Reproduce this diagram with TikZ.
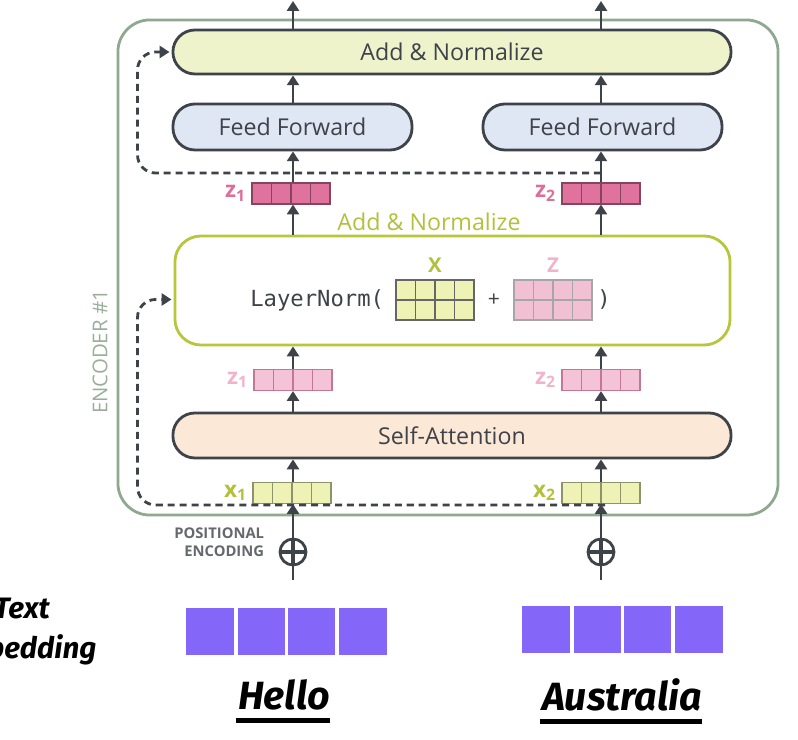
\documentclass[tikz,border=0pt]{standalone}
\usepackage{fontspec}
\setmainfont{Open Sans}
\setmonofont{DejaVu Sans Mono}
\newfontfamily\wordfont{Fira Sans}
\usetikzlibrary{arrows.meta, positioning, calc}

\definecolor{ink}{HTML}{3E4249}
\definecolor{encline}{HTML}{8FA88F}
\definecolor{enctext}{HTML}{9AAE9A}
\definecolor{addfill}{HTML}{EEF3CC}
\definecolor{fffill}{HTML}{DFE7F5}
\definecolor{safill}{HTML}{FCE8D7}
\definecolor{olive}{HTML}{B3C13A}
\definecolor{lnline}{HTML}{B8C63C}
\definecolor{xfill}{HTML}{EEF3B5}
\definecolor{zdark}{HTML}{E0739E}
\definecolor{zdarklab}{HTML}{DE6D98}
\definecolor{zlight}{HTML}{F5C3D8}
\definecolor{zlightlab}{HTML}{F2B2CB}
\definecolor{embfill}{HTML}{8466F8}

\tikzset{
    cells/.style={path picture={
        \foreach \i in {1,2,3}
            \draw[#1] ($(path picture bounding box.south west)!\i/4!(path picture bounding box.south east)$)
                -- ($(path picture bounding box.north west)!\i/4!(path picture bounding box.north east)$);
    }},
}

\begin{document}
\begin{tikzpicture}[x=0.025cm, y=-0.025cm,
    box/.style={draw=ink, line width=2pt, rounded corners=0.55cm, text=ink,
        font=\fontsize{16.5}{20}\selectfont},
    arr/.style={draw=ink, line width=2pt, -{Triangle[length=7pt, width=8.5pt]}},
    resid/.style={draw=ink, line width=2pt, dash pattern=on 5pt off 3.5pt,
        rounded corners=0.45cm, -{Triangle[length=7pt, width=8.5pt]}},
    vec/.style={draw=#1, line width=0.8pt, inner sep=0pt, minimum width=1.95cm,
        minimum height=0.525cm, cells={#1, line width=0.8pt}},
    veclab/.style={inner sep=1pt, font=\fontsize{16}{18}\selectfont},
    pe/.style={circle, draw=ink, line width=2pt, minimum size=0.65cm, inner sep=0pt,
        path picture={
            \draw[ink, line width=3.5pt] (path picture bounding box.north) -- (path picture bounding box.south);
            \draw[ink, line width=3.5pt] (path picture bounding box.west) -- (path picture bounding box.east);
        }},
    emb/.style={fill=embfill, inner sep=0pt, minimum width=5.025cm, minimum height=1.175cm,
        cells={white, line width=2.5pt}},
    word/.style={inner sep=0pt, font=\wordfont\bfseries\itshape\fontsize{28}{32}\selectfont},
]
    \useasboundingbox (0,0) rectangle (798,740);
    \clip (0,0) rectangle (798,740);

    % encoder frame
    \node[draw=encline, line width=2pt, rounded corners=0.8cm, minimum width=16.5cm,
        minimum height=12.375cm] (enc) at (448,267.5) {};
    \node[rotate=90, text=enctext, font=\fontsize{14.5}{16}\selectfont] (enclab) at (100,352) {ENCODER \#1};

    % blocks
    \node[box, fill=addfill, minimum width=13.95cm, minimum height=1.1cm] (addtop) at (452,52) {Add \& Normalize};
    \node[box, fill=fffill, minimum width=5.975cm, minimum height=1.15cm] (ffl) at (292.5,127) {Feed Forward};
    \node[box, fill=fffill, minimum width=5.975cm, minimum height=1.15cm] (ffr) at (602.5,127) {Feed Forward};
    \node[box, draw=lnline, fill=white, rounded corners=0.65cm, minimum width=13.875cm,
        minimum height=2.725cm] (ln) at (452.5,290.5) {};
    \node[text=olive, font=\fontsize{16.5}{20}\selectfont] (lnlab) at (429,222) {Add \& Normalize};
    \node[box, fill=safill, minimum width=13.95cm, minimum height=1.125cm] (sa) at (452,435.5) {Self-Attention};

    % layer norm formula
    \node[vec=gray!80!black, fill=xfill, minimum height=1cm] (mx) at (435,300) {};
    \draw[gray!80!black, line width=0.8pt] (mx.west) -- (mx.east);
    \node[vec=gray!70, fill=zdark!45, minimum height=1cm] (mz) at (553,300) {};
    \draw[gray!70, line width=0.8pt] (mz.west) -- (mz.east);
    \node[above=0.05cm of mx, text=olive, font=\bfseries\fontsize{14.5}{16}\selectfont] (mxlab) {X};
    \node[above=0.05cm of mz, text=zlightlab, font=\bfseries\fontsize{14.5}{16}\selectfont] (mzlab) {Z};
    \node[anchor=east, text=ink, font=\ttfamily\fontsize{15.8}{18}\selectfont] (lnfun) at (389,300) {LayerNorm(};
    \node[text=ink, font=\fontsize{15}{18}\selectfont] (plus) at (494,300) {+};
    \node[text=ink, font=\ttfamily\fontsize{15.8}{18}\selectfont] (close) at (604,300) {)};

    % vectors
    \node[vec=zdark!60!black, fill=zdark] (zt1) at (291,193.5) {};
    \node[vec=zdark!60!black, fill=zdark] (zt2) at (601,193.5) {};
    \node[vec=zdark!70!gray, fill=zlight] (zl1) at (293,380) {};
    \node[vec=zdark!70!gray, fill=zlight] (zl2) at (601,380) {};
    \node[vec=gray!70!olive, fill=xfill] (x1) at (292,493) {};
    \node[vec=gray!70!olive, fill=xfill] (x2) at (601,493) {};
    \node[veclab, text=zdarklab, left=0.1cm of zt1] (zt1lab) {\bfseries z\textsubscript{1}};
    \node[veclab, text=zdarklab, left=0.1cm of zt2] (zt2lab) {\bfseries z\textsubscript{2}};
    \node[veclab, text=zlightlab, left=0.1cm of zl1] (zl1lab) {\bfseries z\textsubscript{1}};
    \node[veclab, text=zlightlab, left=0.1cm of zl2] (zl2lab) {\bfseries z\textsubscript{2}};
    \node[veclab, text=olive, left=0.1cm of x1] (x1lab) {\bfseries x\textsubscript{1}};
    \node[veclab, text=olive, left=0.1cm of x2] (x2lab) {\bfseries x\textsubscript{2}};

    % positional encoding
    \node[pe] (pe1) at (293,552) {};
    \node[pe] (pe2) at (601,552) {};
    \draw[ink, line width=2pt] (pe1.south) -- ++(0,14);
    \draw[ink, line width=2pt] (pe2.south) -- ++(0,14);
    \node[anchor=east, align=right, text=ink!80, font=\bfseries\fontsize{10.5}{13}\selectfont] (pelab) at (269,542) {POSITIONAL\\ENCODING};

    % arrows
    \coordinate (out1) at (293,1);
    \coordinate (out2) at (601,1);
    \draw[arr] (addtop.north -| out1) -- (out1);
    \draw[arr] (addtop.north -| out2) -- (out2);
    \draw[arr] (ffl.north -| out1) -- (addtop.south -| out1);
    \draw[arr] (ffr.north -| out2) -- (addtop.south -| out2);
    \draw[arr] (zt1.north -| out1) -- (ffl.south -| out1);
    \draw[arr] (zt2.north) -- (ffr.south -| zt2.north);
    \draw[arr] (ln.north -| out1) -- (zt1.south -| out1);
    \draw[arr] (ln.north -| zt2.south) -- (zt2.south);
    \draw[arr] (zl1.north) -- (ln.south -| zl1.north);
    \draw[arr] (zl2.north) -- (ln.south -| zl2.north);
    \draw[arr] (sa.north -| zl1.south) -- (zl1.south);
    \draw[arr] (sa.north -| zl2.south) -- (zl2.south);
    \draw[arr] (x1.north -| pe1.north) -- (sa.south -| pe1.north);
    \draw[arr] (x2.north) -- (sa.south -| x2.north);
    \draw[arr] (pe1.north) -- (x1.south -| pe1.north);
    \draw[arr] (pe2.north) -- (x2.south);

    % residual connections
    \coordinate (res1) at (605,505);
    \coordinate (res2) at (601,173);
    \draw[resid] (res1) -| ($(ln.west)+(-36,9)$) -- ($(ln.west)+(-2,9)$);
    \draw[resid] (res2) -| ($(addtop.west)+(-34,0)$) -- ($(addtop.west)+(-2,0)$);

    % embeddings
    \node[emb] (emb1) at (286.5,631.5) {};
    \node[emb] (emb2) at (622.5,629.5) {};
    \node[align=center, font=\wordfont\bfseries\itshape\fontsize{21}{28.5}\selectfont] (emblab) at (22,632) {Text\\Embedding};

    % words
    \node[word] (w1) at (284,695) {Hello};
    \node[word] (w2) at (622,695) {Australia};
    \draw[line width=3pt] ($(w1.south west)+(-2,10)$) -- ($(w1.south east)+(0,10)$);
    \draw[line width=3pt] ($(w2.south west)+(-2,10)$) -- ($(w2.south east)+(0,10)$);
\end{tikzpicture}
\end{document}
